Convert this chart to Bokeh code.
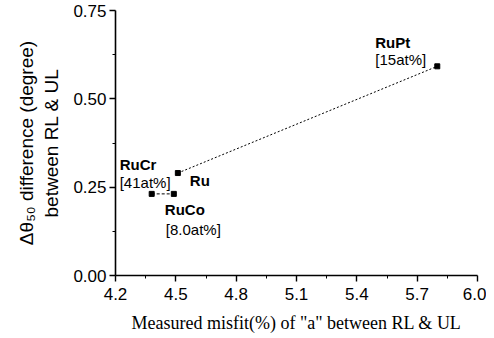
import math
from bokeh.plotting import figure
from bokeh.models import FixedTicker, NumeralTickFormatter, ColumnDataSource
from bokeh.core.properties import value
from bokeh.embed import file_html
from bokeh.resources import INLINE

# ---- data ----
materials = ["RuCr", "RuCo", "Ru", "RuPt"]
misfit = [4.38, 4.49, 4.51, 5.80]
delta_theta = [0.231, 0.231, 0.290, 0.592]
compositions = ["[41at%]", "[8.0at%]", "", "[15at%]"]
x_ticks = [4.2, 4.5, 4.8, 5.1, 5.4, 5.7, 6.0]
y_ticks = [0.00, 0.25, 0.50, 0.75]

# ---- layout / style ----
name_dx = [-32, -9, 12, -62]
name_dy = [-29, 16, 7, -24]
comp_dx = [-32, -8, 0, -62]
comp_dy = [-11, 36, 0, -7]

p = figure(width=486, height=336, output_backend="svg", toolbar_location=None,
           x_range=(4.2, 6.0), y_range=(0.0, 0.75),
           min_border_left=115, min_border_right=9, min_border_top=10,
           min_border_bottom=61)
p.outline_line_color = None
p.grid.visible = False
p.background_fill_color = "white"

# axes
p.xaxis.ticker = FixedTicker(ticks=x_ticks,
                             minor_ticks=[(a + b) / 2 for a, b in zip(x_ticks[:-1], x_ticks[1:])])
p.yaxis.ticker = FixedTicker(ticks=y_ticks,
                             minor_ticks=[(a + b) / 2 for a, b in zip(y_ticks[:-1], y_ticks[1:])])
p.xaxis.formatter = NumeralTickFormatter(format="0.0")
p.yaxis.formatter = NumeralTickFormatter(format="0.00")
for ax in (p.xaxis, p.yaxis):
    ax.axis_line_color = "black"
    ax.axis_line_width = 1.6
    ax.major_tick_line_color = "black"
    ax.major_tick_line_width = 1.4
    ax.major_tick_out = 6
    ax.major_tick_in = 0
    ax.minor_tick_line_color = "black"
    ax.minor_tick_out = 3
    ax.minor_tick_in = 0
    ax.major_label_text_font = "Liberation Sans"
    ax.major_label_text_font_size = "17px"
    ax.major_label_text_color = "black"
p.yaxis.major_label_standoff = 3
p.xaxis.major_label_standoff = 6

p.xaxis.axis_label = 'Measured misfit(%) of "a" between RL & UL'
p.xaxis.axis_label_text_font = "Liberation Serif"
p.xaxis.axis_label_text_font_style = "normal"
p.xaxis.axis_label_text_font_size = "18px"
p.xaxis.axis_label_text_color = "black"
p.xaxis.axis_label_standoff = 10

p.yaxis.axis_label = "Δθ₅₀ difference (degree)\nbetween RL & UL"
p.yaxis.axis_label_text_font = "Liberation Sans"
p.yaxis.axis_label_text_font_style = "normal"
p.yaxis.axis_label_text_font_size = "19px"
p.yaxis.axis_label_text_color = "black"
p.yaxis.axis_label_standoff = 8

# connecting lines
p.line([misfit[2], misfit[3]], [delta_theta[2], delta_theta[3]],
       line_color="black", line_width=1, line_dash="2 2")
p.line([misfit[0], misfit[1]], [delta_theta[0], delta_theta[1]],
       line_color="black", line_width=1, line_dash="3 2")

# markers
p.scatter(misfit, delta_theta, marker="square", size=5, color="black")

src = ColumnDataSource(dict(x=misfit, y=delta_theta, name=materials, comp=compositions,
                            ndx=name_dx, ndy=name_dy, cdx=comp_dx, cdy=comp_dy))
p.text(x="x", y="y", text="name", x_offset="ndx", y_offset="ndy", source=src,
       text_font=value("Liberation Sans"), text_font_style="bold",
       text_font_size="15px", text_align="left", text_baseline="middle", text_color="black")
p.text(x="x", y="y", text="comp", x_offset="cdx", y_offset="cdy", source=src,
       text_font=value("Liberation Sans"), text_font_size="15px",
       text_align="left", text_baseline="middle", text_color="black")

open("out.html", "w").write(file_html(p, INLINE))
